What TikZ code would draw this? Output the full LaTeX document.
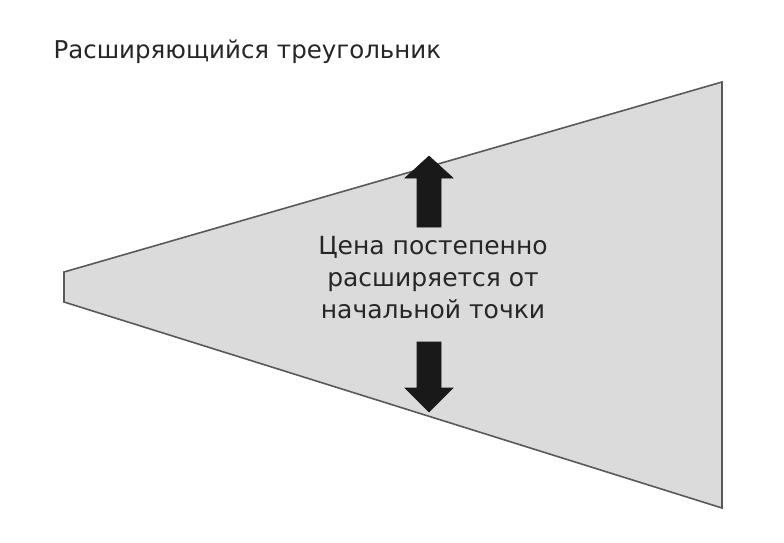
\documentclass[tikz,border=0pt]{standalone}
\usepackage{fontspec}
\setmainfont{DejaVu Sans}
\begin{document}
\begin{tikzpicture}[x=1pt,y=-1pt,
  arr/.style={fill=black!90,draw=black!90,line width=0.6pt},
  lbl/.style={font=\fontsize{25}{32}\selectfont,text=black!85,align=center}]
\useasboundingbox (0,0) rectangle (784,542);
\fill[white] (0,0) rectangle (784,542);
\draw[fill=black!14,draw=black!65,line width=1.6pt] (64,272) -- (722,82) -- (722,508) -- (64,302) -- cycle;
\node[anchor=west,font=\fontsize{24.5}{28}\selectfont,text=black!85] (title) at (50,52) {Расширяющийся треугольник};
\draw[arr] (417,227) -- (417,178) -- (405,178) -- (429,156) -- (453,178) -- (441,178) -- (441,227) -- cycle;
\draw[arr] (417,342) -- (417,388) -- (405,388) -- (429,412) -- (453,388) -- (441,388) -- (441,342) -- cycle;
\node[lbl] (t) at (433,278) {Цена постепенно\\расширяется от\\начальной точки};
\end{tikzpicture}
\end{document}
